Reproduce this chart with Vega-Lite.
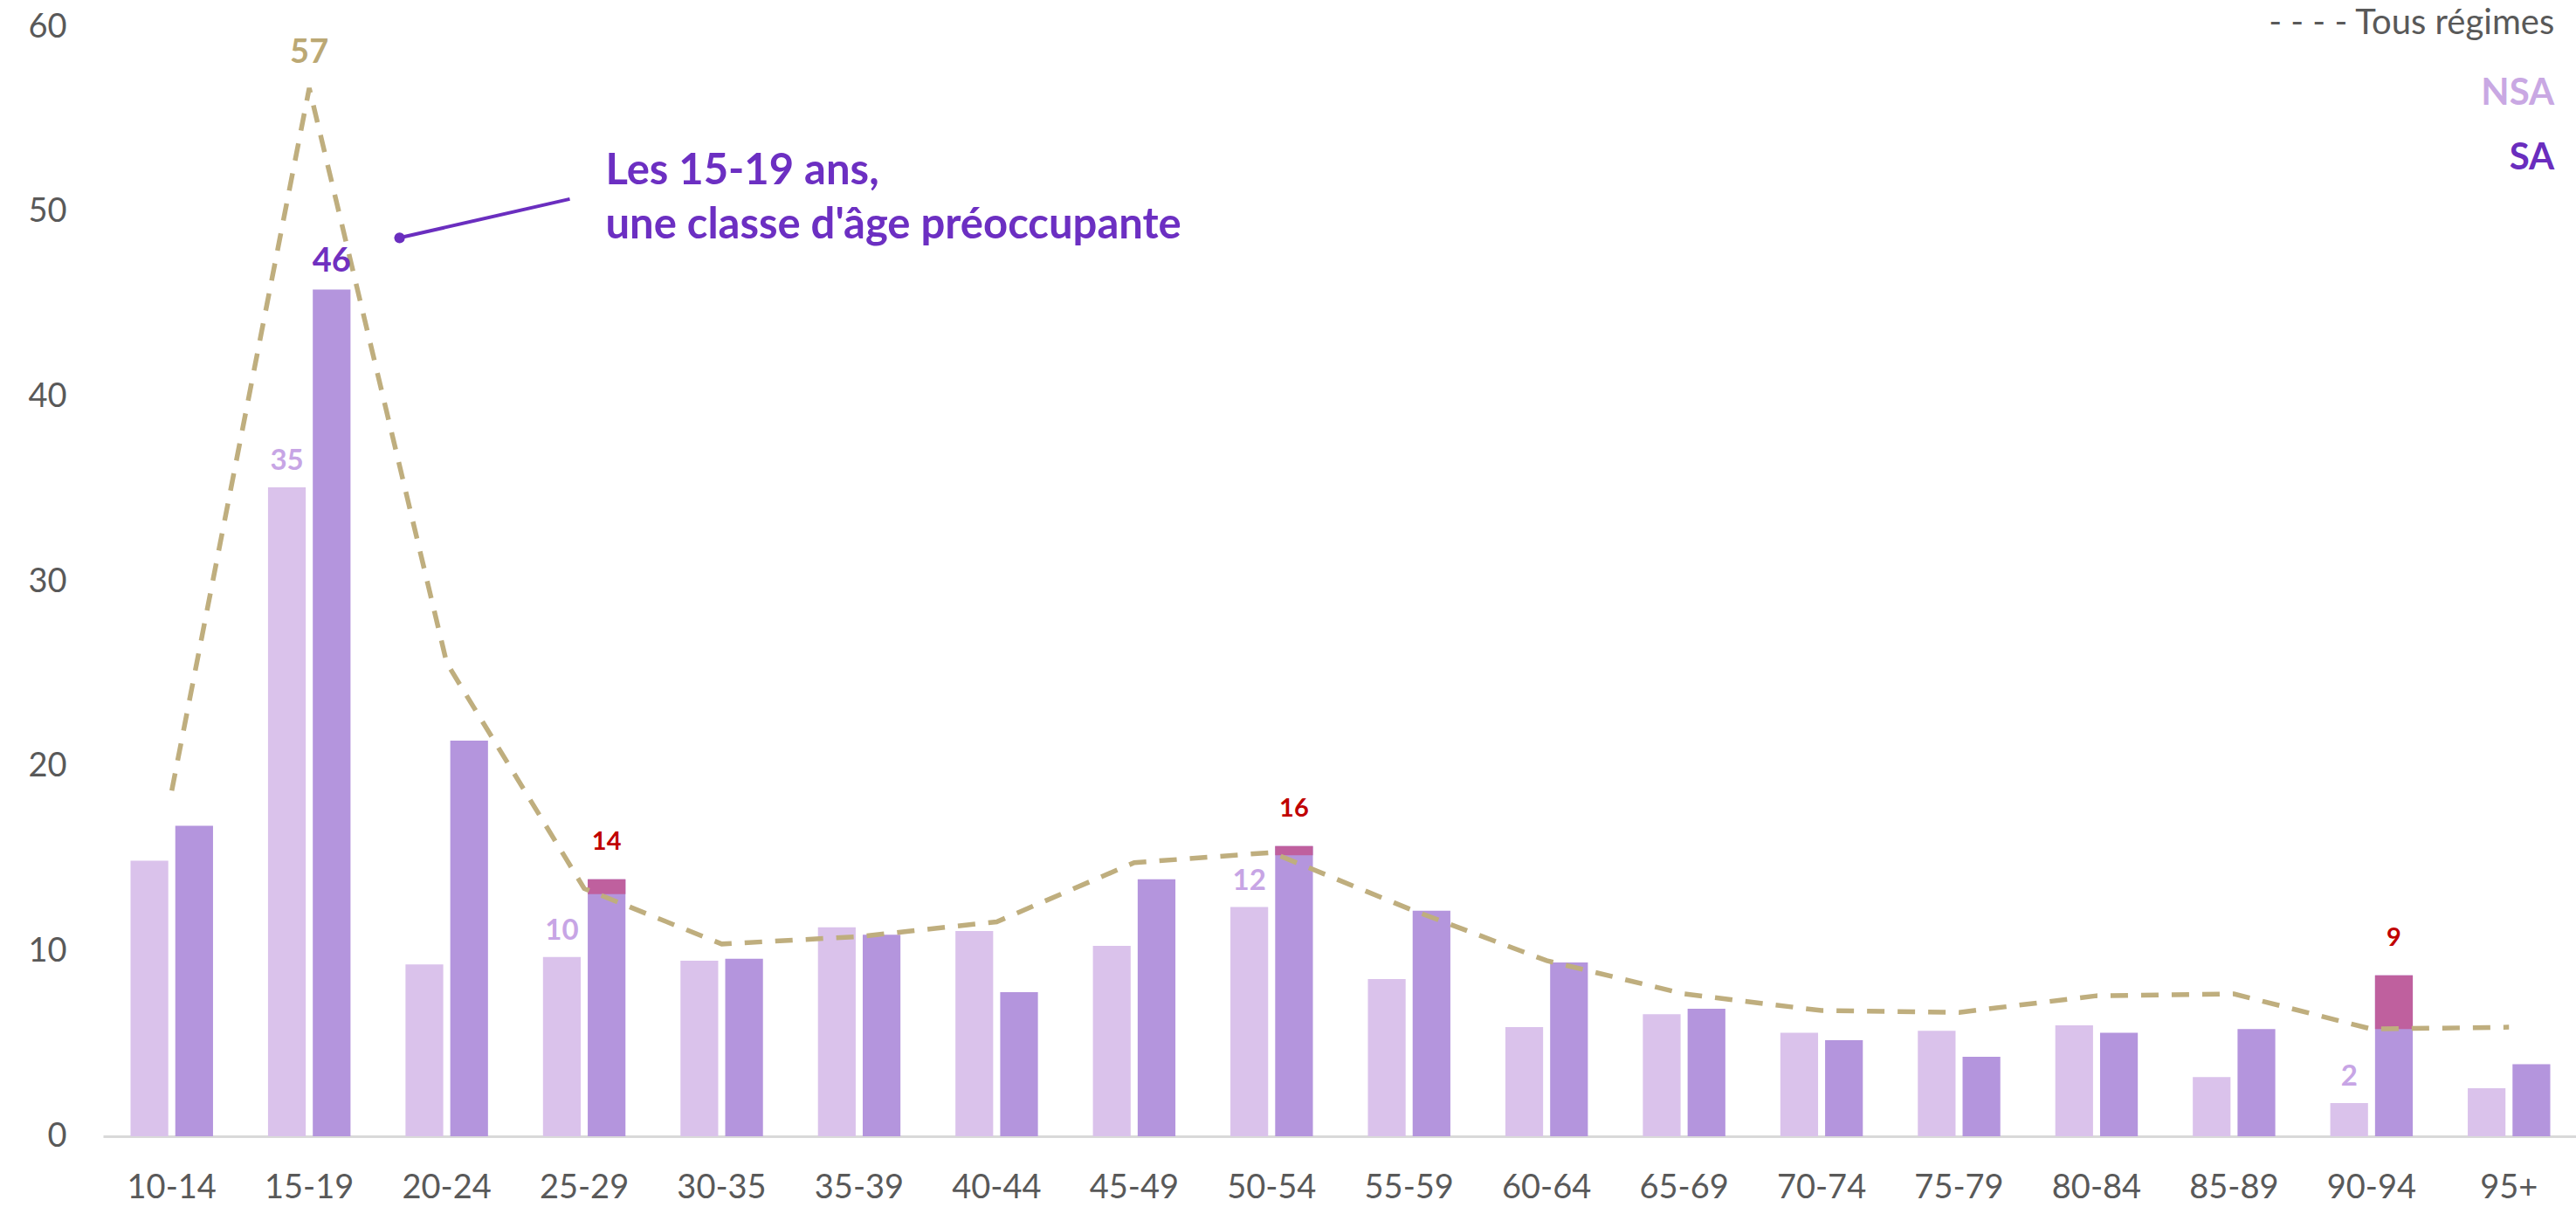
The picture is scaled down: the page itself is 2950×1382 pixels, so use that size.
{
  "$schema": "https://vega.github.io/schema/vega-lite/v6.json",
  "width": 2834,
  "height": 1270,
  "autosize": {"type": "none"},
  "padding": {"left": 118, "top": 31, "right": 0, "bottom": 81},
  "background": "white",
  "config": {"view": {"stroke": null}, "font": "Lato", "text": {"font": "Lato"}},
  "datasets": {
    "barres": [
      {"age": "10-14", "serie": "NSA", "value": 14.9},
      {"age": "10-14", "serie": "SA", "value": 16.8},
      {"age": "15-19", "serie": "NSA", "value": 35.1, "lab": "35"},
      {"age": "15-19", "serie": "SA", "value": 45.8, "lab": "46"},
      {"age": "20-24", "serie": "NSA", "value": 9.3},
      {"age": "20-24", "serie": "SA", "value": 21.4},
      {"age": "25-29", "serie": "NSA", "value": 9.7, "lab": "10"},
      {"age": "25-29", "serie": "SA", "value": 13.9, "red_from": 13.1, "lab": "14"},
      {"age": "30-35", "serie": "NSA", "value": 9.5},
      {"age": "30-35", "serie": "SA", "value": 9.6},
      {"age": "35-39", "serie": "NSA", "value": 11.3},
      {"age": "35-39", "serie": "SA", "value": 10.9},
      {"age": "40-44", "serie": "NSA", "value": 11.1},
      {"age": "40-44", "serie": "SA", "value": 7.8},
      {"age": "45-49", "serie": "NSA", "value": 10.3},
      {"age": "45-49", "serie": "SA", "value": 13.9},
      {"age": "50-54", "serie": "NSA", "value": 12.4, "lab": "12"},
      {"age": "50-54", "serie": "SA", "value": 15.7, "red_from": 15.2, "lab": "16"},
      {"age": "55-59", "serie": "NSA", "value": 8.5},
      {"age": "55-59", "serie": "SA", "value": 12.2},
      {"age": "60-64", "serie": "NSA", "value": 5.9},
      {"age": "60-64", "serie": "SA", "value": 9.4},
      {"age": "65-69", "serie": "NSA", "value": 6.6},
      {"age": "65-69", "serie": "SA", "value": 6.9},
      {"age": "70-74", "serie": "NSA", "value": 5.6},
      {"age": "70-74", "serie": "SA", "value": 5.2},
      {"age": "75-79", "serie": "NSA", "value": 5.7},
      {"age": "75-79", "serie": "SA", "value": 4.3},
      {"age": "80-84", "serie": "NSA", "value": 6.0},
      {"age": "80-84", "serie": "SA", "value": 5.6},
      {"age": "85-89", "serie": "NSA", "value": 3.2},
      {"age": "85-89", "serie": "SA", "value": 5.8},
      {"age": "90-94", "serie": "NSA", "value": 1.8, "lab": "2"},
      {"age": "90-94", "serie": "SA", "value": 8.7, "red_from": 5.8, "lab": "9"},
      {"age": "95+", "serie": "NSA", "value": 2.6},
      {"age": "95+", "serie": "SA", "value": 3.9}
    ],
    "ligne": [
      {"age": "10-14", "tous": 18.7},
      {"age": "15-19", "tous": 56.7, "lab": "57"},
      {"age": "20-24", "tous": 25.6},
      {"age": "25-29", "tous": 13.4},
      {"age": "30-35", "tous": 10.4},
      {"age": "35-39", "tous": 10.8},
      {"age": "40-44", "tous": 11.6},
      {"age": "45-49", "tous": 14.8},
      {"age": "50-54", "tous": 15.35},
      {"age": "55-59", "tous": 12.3},
      {"age": "60-64", "tous": 9.5},
      {"age": "65-69", "tous": 7.7},
      {"age": "70-74", "tous": 6.8},
      {"age": "75-79", "tous": 6.7},
      {"age": "80-84", "tous": 7.6},
      {"age": "85-89", "tous": 7.7},
      {"age": "90-94", "tous": 5.8},
      {"age": "95+", "tous": 5.9}
    ],
    "notes": [
      {"kind": "fleche", "px": 2.157, "py": 48.6, "px2": 3.395, "py2": 50.7},
      {"kind": "annot", "px": 3.655, "py": 52.2, "t": "Les 15-19 ans,"},
      {"kind": "annot", "px": 3.655, "py": 49.27, "t": "une classe d'âge préoccupante"},
      {"kind": "leg_tous", "px": 17.83, "py": 59.6, "t": "- - - - Tous régimes"},
      {"kind": "leg_nsa", "px": 17.83, "py": 55.8, "t": "NSA"},
      {"kind": "leg_sa", "px": 17.83, "py": 52.3, "t": "SA"}
    ]
  },
  "resolve": {"scale": {"x": "independent"}, "axis": {"x": "independent"}},
  "layer": [
    {
      "layer": [
        {
          "data": {"name": "barres"},
          "mark": {"type": "bar"},
          "encoding": {
            "x": {
              "field": "age", "type": "nominal", "sort": null,
              "scale": {"domain": ["10-14","15-19","20-24","25-29","30-35","35-39","40-44","45-49","50-54","55-59","60-64","65-69","70-74","75-79","80-84","85-89","90-94","95+"], "paddingInner": 0.4, "paddingOuter": 0.2},
              "axis": {"title": null, "labelAngle": 0, "labelFontSize": 38, "labelColor": "#595959", "labelPadding": 40, "ticks": false, "domainColor": "#D9D9D9", "domainWidth": 3, "labelFont": "Lato"}
            },
            "xOffset": {"field": "serie", "type": "nominal", "scale": {"domain": ["NSA", "SA"], "paddingInner": 0.157, "paddingOuter": 0}},
            "y": {
              "field": "value", "type": "quantitative",
              "scale": {"domain": [0, 60], "nice": false},
              "axis": {"title": null, "values": [0,10,20,30,40,50,60], "labelFontSize": 38, "labelColor": "#595959", "labelPadding": 42, "ticks": false, "domain": false, "grid": false, "labelFont": "Lato"}
            },
            "color": {"field": "serie", "type": "nominal", "scale": {"domain": ["NSA", "SA"], "range": ["#DAC2EB", "#B495DD"]}, "legend": null}
          }
        },
        {
          "data": {"name": "barres"},
          "transform": [{"filter": "datum.red_from != null"}],
          "mark": {"type": "bar", "color": "#BF609E"},
          "encoding": {
            "x": {"field": "age", "type": "nominal", "sort": null},
            "xOffset": {"field": "serie", "type": "nominal"},
            "y": {"field": "red_from", "type": "quantitative"},
            "y2": {"field": "value"}
          }
        },
        {
          "data": {"name": "ligne"},
          "mark": {"type": "line", "color": "#BFAE7E", "strokeWidth": 5.5, "strokeDash": [20, 15], "interpolate": "linear"},
          "encoding": {
            "x": {"field": "age", "type": "nominal", "sort": null},
            "y": {"field": "tous", "type": "quantitative"}
          }
        },
        {
          "data": {"name": "barres"},
          "transform": [{"filter": "datum.serie === 'NSA' && datum.lab"}],
          "mark": {"type": "text", "color": "#C7A5E5", "fontSize": 33, "fontWeight": "bold", "baseline": "middle", "dy": -30},
          "encoding": {
            "x": {"field": "age", "type": "nominal", "sort": null},
            "xOffset": {"field": "serie", "type": "nominal"},
            "y": {"field": "value", "type": "quantitative"},
            "text": {"field": "lab"}
          }
        },
        {
          "data": {"name": "barres"},
          "transform": [{"filter": "datum.red_from != null"}],
          "mark": {"type": "text", "color": "#C00000", "fontSize": 29, "fontWeight": "bold", "baseline": "middle", "dy": -43},
          "encoding": {
            "x": {"field": "age", "type": "nominal", "sort": null},
            "xOffset": {"field": "serie", "type": "nominal"},
            "y": {"field": "value", "type": "quantitative"},
            "text": {"field": "lab"}
          }
        },
        {
          "data": {"name": "barres"},
          "transform": [{"filter": "datum.serie === 'SA' && datum.lab && datum.red_from == null"}],
          "mark": {"type": "text", "color": "#7030C0", "fontSize": 38, "fontWeight": "bold", "baseline": "middle", "dy": -32},
          "encoding": {
            "x": {"field": "age", "type": "nominal", "sort": null},
            "xOffset": {"field": "serie", "type": "nominal"},
            "y": {"field": "value", "type": "quantitative"},
            "text": {"field": "lab"}
          }
        },
        {
          "data": {"name": "ligne"},
          "transform": [{"filter": "datum.lab"}],
          "mark": {"type": "text", "color": "#BBA874", "fontSize": 38, "fontWeight": "bold", "baseline": "middle", "dy": -40},
          "encoding": {
            "x": {"field": "age", "type": "nominal", "sort": null},
            "y": {"field": "tous", "type": "quantitative"},
            "text": {"field": "lab"}
          }
        }
      ]
    },
    {
      "layer": [
        {
          "data": {"name": "notes"},
          "transform": [{"filter": "datum.kind === 'fleche'"}],
          "mark": {"type": "rule", "color": "#6A2EBF", "strokeWidth": 4},
          "encoding": {
            "x": {"field": "px", "type": "quantitative", "scale": {"domain": [0, 18], "nice": false, "zero": false}, "axis": null},
            "y": {"field": "py", "type": "quantitative"},
            "x2": {"field": "px2"},
            "y2": {"field": "py2"}
          }
        },
        {
          "data": {"name": "notes"},
          "transform": [{"filter": "datum.kind === 'fleche'"}],
          "mark": {"type": "point", "filled": true, "color": "#6A2EBF", "size": 150, "opacity": 1},
          "encoding": {
            "x": {"field": "px", "type": "quantitative"},
            "y": {"field": "py", "type": "quantitative"}
          }
        },
        {
          "data": {"name": "notes"},
          "transform": [{"filter": "datum.kind === 'annot'"}],
          "mark": {"type": "text", "color": "#6C2FC2", "fontSize": 49, "fontWeight": "bold", "align": "left", "baseline": "middle"},
          "encoding": {
            "x": {"field": "px", "type": "quantitative"},
            "y": {"field": "py", "type": "quantitative"},
            "text": {"field": "t"}
          }
        },
        {
          "data": {"name": "notes"},
          "transform": [{"filter": "datum.kind === 'leg_tous'"}],
          "mark": {"type": "text", "color": "#595959", "fontSize": 40, "align": "right", "baseline": "alphabetic"},
          "encoding": {
            "x": {"field": "px", "type": "quantitative"},
            "y": {"field": "py", "type": "quantitative"},
            "text": {"field": "t"}
          }
        },
        {
          "data": {"name": "notes"},
          "transform": [{"filter": "datum.kind === 'leg_nsa'"}],
          "mark": {"type": "text", "color": "#C9A8E3", "fontSize": 42, "fontWeight": "bold", "align": "right", "baseline": "alphabetic"},
          "encoding": {
            "x": {"field": "px", "type": "quantitative"},
            "y": {"field": "py", "type": "quantitative"},
            "text": {"field": "t"}
          }
        },
        {
          "data": {"name": "notes"},
          "transform": [{"filter": "datum.kind === 'leg_sa'"}],
          "mark": {"type": "text", "color": "#6A2DBE", "fontSize": 42, "fontWeight": "bold", "align": "right", "baseline": "alphabetic"},
          "encoding": {
            "x": {"field": "px", "type": "quantitative"},
            "y": {"field": "py", "type": "quantitative"},
            "text": {"field": "t"}
          }
        }
      ]
    }
  ]
}
